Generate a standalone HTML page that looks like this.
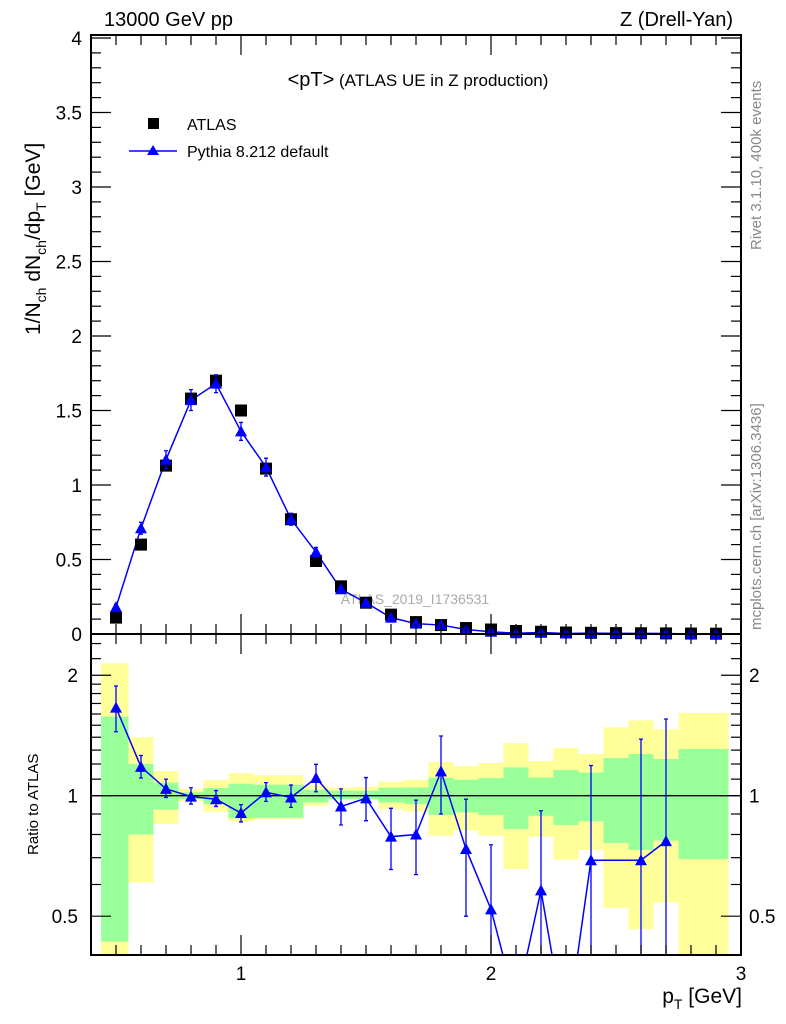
<!DOCTYPE html>
<html><head><meta charset="utf-8"><style>
html,body{margin:0;padding:0;background:#fff;overflow:hidden;width:786px;height:1024px;}
svg{display:block;font-family:"Liberation Sans",sans-serif;}
</style></head><body>
<svg id="chart" width="786" height="1024" viewBox="0 0 786 1024" xmlns="http://www.w3.org/2000/svg">
<text x="104" y="26" font-size="20">13000 GeV pp</text>
<text x="733" y="26" font-size="20" text-anchor="end">Z (Drell-Yan)</text>
<text x="418" y="86" font-size="17" text-anchor="middle"><tspan font-size="20">&lt;pT&gt;</tspan> (ATLAS UE in Z production)</text>
<text transform="translate(761,250) rotate(-90)" font-size="15" fill="#888">Rivet 3.1.10,  400k events</text>
<text transform="translate(761,630) rotate(-90)" font-size="15" fill="#888">mcplots.cern.ch [arXiv:1306.3436]</text>
<text x="415" y="604" font-size="14" fill="#aaa" text-anchor="middle">ATLAS_2019_I1736531</text>
<text transform="translate(40,335) rotate(-90)" font-size="21">1/N<tspan font-size="14" dy="6">ch</tspan><tspan dy="-6"> dN</tspan><tspan font-size="14" dy="6">ch</tspan><tspan dy="-6">/dp</tspan><tspan font-size="14" dy="6">T</tspan><tspan dy="-6"> [GeV]</tspan></text>
<text transform="translate(38,855) rotate(-90)" font-size="15">Ratio to ATLAS</text>
<text x="742" y="1003" font-size="21" text-anchor="end">p<tspan font-size="14" dy="6">T</tspan><tspan dy="-6"> [GeV]</tspan></text>
<g>
<rect x="148" y="118" width="11" height="11" fill="#000"/>
<text x="187" y="130" font-size="16">ATLAS</text>
<line x1="129" y1="151" x2="177" y2="151" stroke="#00f" stroke-width="1.5"/>
<path d="M153,145 L159,155 L147,155 Z" fill="#00f"/>
<text x="187" y="157" font-size="16">Pythia 8.212 default</text>
</g>
<g id="bands"></g>
<g id="marks"></g>
<g id="axes"></g>
</svg>
<script>
const xCenters=[0.5,0.6,0.7,0.8,0.9,1.0,1.1,1.2,1.3,1.4,1.5,1.6,1.7,1.8,1.9,2.0,2.1,2.2,2.3,2.4,2.5,2.6,2.7,2.8,2.9];
const atlasValues=[0.11,0.60,1.13,1.58,1.70,1.50,1.11,0.77,0.49,0.32,0.21,0.13,0.08,0.06,0.04,0.03,0.02,0.015,0.01,0.008,0.006,0.005,0.004,0.003,0.002];
const mcValues=[0.18,0.71,1.17,1.57,1.68,1.36,1.12,0.77,0.55,0.30,0.21,0.11,0.07,0.06,0.03,0.015,0.005,0.01,0.003,0.006,0.004,0.004,0.003,0,0];
const mcErrors=[0.02,0.04,0.06,0.07,0.06,0.06,0.06,0.04,0.03,0.02,0.02,0.01,0.01,0.01,0.01,0.01,0.005,0.005,0.005,0.005,0.005,0.005,0.005,0,0];
const ratioX=[0.5,0.6,0.7,0.8,0.9,1.0,1.1,1.2,1.3,1.4,1.5,1.6,1.7,1.8,1.9,2.0,2.1,2.2,2.3,2.4,2.6,2.7];
const ratioValues=[1.66,1.18,1.04,0.995,0.98,0.905,1.02,0.99,1.107,0.94,0.985,0.79,0.80,1.15,0.736,0.52,0.3,0.58,0.25,0.69,0.69,0.77];
const ratioHi=[1.88,1.26,1.10,1.047,1.03,0.95,1.078,1.063,1.198,1.04,1.11,0.93,0.975,1.41,0.98,0.754,0.35,0.917,0.3,1.19,1.385,1.555];
const ratioLo=[1.445,1.107,0.99,0.953,0.94,0.86,0.968,0.935,1.023,0.845,0.866,0.654,0.635,0.90,0.50,0.1,0.1,0.1,0.1,0.1,0.1,0.1];
const bandEdges=[0.44,0.55,0.65,0.75,0.85,0.95,1.05,1.15,1.25,1.35,1.45,1.55,1.65,1.75,1.85,1.95,2.05,2.15,2.25,2.35,2.45,2.55,2.65,2.75,2.85,2.95];
const yellowHi=[2.14,1.40,1.152,1.04,1.094,1.139,1.126,1.126,1.059,1.047,1.053,1.084,1.096,1.214,1.186,1.207,1.354,1.221,1.316,1.271,1.482,1.543,1.465,1.61,1.61];
const yellowLo=[0.3,0.607,0.85,0.97,0.912,0.863,0.874,0.874,0.944,0.977,0.977,0.926,0.912,0.794,0.818,0.794,0.656,0.79,0.692,0.732,0.524,0.464,0.541,0.3,0.3];
const greenHi=[1.576,1.20,1.078,1.02,1.045,1.071,1.065,1.065,1.035,1.029,1.029,1.047,1.049,1.109,1.096,1.107,1.177,1.111,1.159,1.142,1.242,1.271,1.235,1.308,1.308];
const greenLo=[0.432,0.80,0.923,0.98,0.953,0.878,0.881,0.881,0.962,0.981,0.981,0.962,0.953,0.895,0.908,0.895,0.825,0.891,0.845,0.863,0.762,0.732,0.772,0.694,0.694];
const mainTicks=[0,0.5,1,1.5,2,2.5,3,3.5,4];
const mainTickLabels=["0","0.5","1","1.5","2","2.5","3","3.5","4"];
const xTicks=[1,2,3];
const xTickLabels=["1","2","3"];
const ratioTicks=[0.5,1,2];
const ratioTickLabels=["0.5","1","2"];

const L=91,R=741,T=35,MB=634,RB=955;
const X=v=>L+(v-0.4)*250;
const Y=v=>MB-v*149;
const RY=v=>795.7-Math.log(v)*173.8;
const NS="http://www.w3.org/2000/svg";
function mk(tag,attrs,parent){const e=document.createElementNS(NS,tag);for(const k in attrs)e.setAttribute(k,attrs[k]);parent.appendChild(e);return e;}
const bands=document.getElementById('bands'),marks=document.getElementById('marks'),axes=document.getElementById('axes');
const clip=mk('clipPath',{id:'rclip'},document.getElementById('chart'));
mk('rect',{x:L,y:MB,width:R-L,height:RB-MB},clip);
bands.setAttribute('clip-path','url(#rclip)');
for(let i=0;i<yellowHi.length;i++){
  const x0=X(bandEdges[i]),x1=X(bandEdges[i+1]);
  const y=mk('rect',{x:x0,y:RY(yellowHi[i]),width:x1-x0,height:RY(yellowLo[i])-RY(yellowHi[i]),fill:'#ffff99'},bands);
  
  
  const g=mk('rect',{x:x0,y:RY(greenHi[i]),width:x1-x0,height:RY(greenLo[i])-RY(greenHi[i]),fill:'#99ff99'},bands);
  
  
}
mk('line',{x1:L,y1:RY(1),x2:R,y2:RY(1),stroke:'#000','stroke-width':1.3},bands);
let pts=xCenters.map((x,i)=>X(x)+','+Y(mcValues[i])).join(' ');
const ml=mk('polyline',{points:pts,fill:'none',stroke:'#00f','stroke-width':1.5},marks);


xCenters.forEach((x,i)=>{
  const a=mk('rect',{x:X(x)-6,y:Y(atlasValues[i])-6,width:12,height:12,fill:'#000'},marks);
  
  
});
xCenters.forEach((x,i)=>{
  const cx=X(x),cy=Y(mcValues[i]);
  if(mcErrors[i]>0){const e=Y(mcValues[i]+mcErrors[i]),f=Y(mcValues[i]-mcErrors[i]);
    mk('path',{d:`M${cx},${e}V${f}M${cx-2},${e}H${cx+2}M${cx-2},${f}H${cx+2}`,stroke:'#00f','stroke-width':1.3,fill:'none'},marks);}
  const t=mk('path',{d:`M${cx},${cy-6}L${cx+6},${cy+5}L${cx-6},${cy+5}Z`,fill:'#00f'},marks);
  
  
});
const rg=mk('g',{'clip-path':'url(#rclip)'},marks);
const rl=mk('polyline',{points:ratioX.map((x,i)=>X(x)+','+RY(ratioValues[i])).join(' '),fill:'none',stroke:'#00f','stroke-width':1.5},rg);


ratioX.forEach((x,i)=>{
  const cx=X(x),cy=RY(ratioValues[i]),e=RY(ratioHi[i]),f=RY(ratioLo[i]);
  mk('path',{d:`M${cx},${e}V${f}M${cx-2},${e}H${cx+2}M${cx-2},${f}H${cx+2}`,stroke:'#00f','stroke-width':1.3,fill:'none'},rg);
  const t=mk('path',{d:`M${cx},${cy-6}L${cx+6},${cy+5}L${cx-6},${cy+5}Z`,fill:'#00f'},rg);
  
  
});
const f1=mk('rect',{x:L,y:T,width:R-L,height:MB-T,fill:'none',stroke:'#000','stroke-width':2},axes);


const f2=mk('rect',{x:L,y:MB,width:R-L,height:RB-MB,fill:'none',stroke:'#000','stroke-width':2},axes);


for(let v=0.5;v<=2.95;v+=0.1){
  const x=X(v),maj=Math.abs(v-Math.round(v))<0.01;
  const l=maj?20:10;
  [[T,1],[MB,-1],[MB,1],[RB,-1]].forEach(([y,d])=>mk('line',{x1:x,y1:y,x2:x,y2:y+d*l,stroke:'#000','stroke-width':1.2},axes));
}
xTicks.forEach((v,i)=>{const t=mk('text',{x:X(v),y:980,'font-size':19,'text-anchor':'middle'},axes);t.textContent=xTickLabels[i];
  
  });
for(let v=0;v<=4.001;v+=0.1){
  const y=Y(v),maj=Math.abs(v*2-Math.round(v*2))<0.01,l=maj?20:10;
  mk('line',{x1:L,y1:y,x2:L+l,y2:y,stroke:'#000','stroke-width':1.2},axes);
  mk('line',{x1:R,y1:y,x2:R-l,y2:y,stroke:'#000','stroke-width':1.2},axes);
}
mainTicks.forEach((v,i)=>{const t=mk('text',{x:82,y:Y(v)+7,'font-size':19,'text-anchor':'end'},axes);t.textContent=mainTickLabels[i];
  
  });
const rminor=[0.4,0.5,0.6,0.7,0.8,0.9,1,1.1,1.2,1.3,1.4,1.5,1.6,1.7,1.8,1.9,2,2.2,2.4];
rminor.forEach(v=>{const y=RY(v);if(y<MB||y>RB)return;const maj=ratioTicks.includes(v),l=maj?20:10;
  mk('line',{x1:L,y1:y,x2:L+l,y2:y,stroke:'#000','stroke-width':1.2},axes);
  mk('line',{x1:R,y1:y,x2:R-l,y2:y,stroke:'#000','stroke-width':1.2},axes);});
ratioTicks.forEach((v,i)=>{
  const t=mk('text',{x:78,y:RY(v)+7,'font-size':19,'text-anchor':'end'},axes);t.textContent=ratioTickLabels[i];
  
  
  const t2=mk('text',{x:749,y:RY(v)+7,'font-size':19},axes);t2.textContent=ratioTickLabels[i];
  
  });
</script>
</body></html>
